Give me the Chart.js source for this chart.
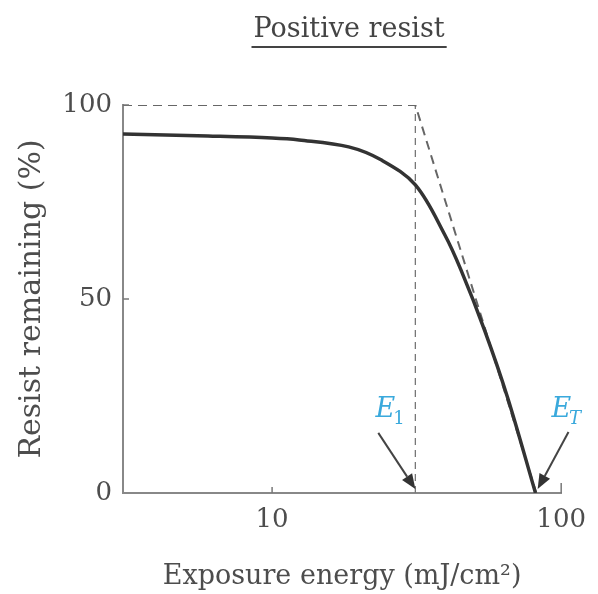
<!DOCTYPE html>
<html>
<head>
<meta charset="utf-8">
<script src="https://cdn.jsdelivr.net/npm/chart.js@4.4.1/dist/chart.umd.min.js"></script>
<style>
  html, body { margin: 0; padding: 0; background: #fff; }
  #wrap { width: 598px; height: 594px; position: relative; }
</style>
</head>
<body>
<div id="wrap"><canvas id="resistChart"></canvas></div>
<script>
// curve: exposure energy (mJ/cm2) vs resist remaining (%)
const energy = [3.05, 6, 10, 12.4, 18.4, 23.9, 31.3, 39.6, 45, 54.3, 65.2, 81.5];
const remaining = [92.5, 92, 91.5, 91, 89.2, 85.8, 79.4, 66.5, 57.5, 42, 24.7, 0];

// idealised dashed outline
const E1 = 31.3;
const ET = 82;
const idealX = [3.05, E1, ET];
const idealY = [100, 100, 0];

const xTicks = [10, 100];
const yTicks = [0, 50, 100];

// annotation arrows, in data units: [fromX, fromY, toX, toY]
const arrowE1 = [23.3, 15.5, E1, 1];
const arrowET = [106, 15.7, 82.9, 1];

const serif = "'DejaVu Serif', 'Liberation Serif', serif";
const textColor = '#4d4d4d';
const cyan = '#3aa9dc';

function pts(xs, ys) {
    return xs.map((v, i) => ({ x: v, y: ys[i] }));
}

function drawArrow(ctx, x0, y0, x1, y1) {
    const ang = Math.atan2(y1 - y0, x1 - x0);
    const head = 15, wing = 6;
    const bx = x1 - head * Math.cos(ang), by = y1 - head * Math.sin(ang);
    ctx.strokeStyle = '#444';
    ctx.lineWidth = 2;
    ctx.beginPath(); ctx.moveTo(x0, y0); ctx.lineTo(bx, by); ctx.stroke();
    ctx.fillStyle = '#333';
    ctx.beginPath();
    ctx.moveTo(x1, y1);
    ctx.lineTo(bx + wing * Math.sin(ang), by - wing * Math.cos(ang));
    ctx.lineTo(bx - wing * Math.sin(ang), by + wing * Math.cos(ang));
    ctx.closePath(); ctx.fill();
}

function drawLabel(ctx, x, y, main, sub, subItalic) {
    ctx.fillStyle = cyan;
    ctx.textBaseline = 'alphabetic';
    ctx.textAlign = 'left';
    ctx.font = 'italic 27px ' + serif;
    const w = ctx.measureText(main).width;
    ctx.fillText(main, x, y);
    ctx.font = (subItalic ? 'italic ' : '') + '18px ' + serif;
    ctx.fillText(sub, x + w - 2, y + 7);
}

const decor = {
    id: 'decor',
    afterDraw(chart) {
        const { ctx, chartArea, scales: { x, y } } = chart;
        ctx.save();

        // inward tick marks
        ctx.strokeStyle = '#777';
        ctx.lineWidth = 1.5;
        xTicks.forEach(v => {
            const px = x.getPixelForValue(v);
            ctx.beginPath();
            ctx.moveTo(px, chartArea.bottom);
            ctx.lineTo(px, chartArea.bottom - (v === 100 ? 10 : 6));
            ctx.stroke();
        });
        yTicks.slice(1).forEach(v => {
            const py = y.getPixelForValue(v);
            ctx.beginPath();
            ctx.moveTo(chartArea.left, py);
            ctx.lineTo(chartArea.left + 6, py);
            ctx.stroke();
        });

        // arrows
        [arrowE1, arrowET].forEach(a => {
            drawArrow(ctx, x.getPixelForValue(a[0]), y.getPixelForValue(a[1]),
                x.getPixelForValue(a[2]), y.getPixelForValue(a[3]));
        });

        // labels
        drawLabel(ctx, x.getPixelForValue(22.8), y.getPixelForValue(19.5), 'E', '1', false);
        drawLabel(ctx, x.getPixelForValue(92.5), y.getPixelForValue(19.5), 'E', 'T', true);

        // underlined title
        const title = 'Positive resist';
        ctx.font = '27px ' + serif;
        ctx.fillStyle = '#444';
        ctx.textAlign = 'center';
        ctx.textBaseline = 'alphabetic';
        const cx = (chartArea.left + chartArea.right) / 2 + 7;
        ctx.fillText(title, cx, 37);
        const tw = ctx.measureText(title).width;
        ctx.strokeStyle = '#444';
        ctx.lineWidth = 2;
        ctx.beginPath();
        ctx.moveTo(cx - tw / 2 - 2, 47);
        ctx.lineTo(cx + tw / 2 + 2, 47);
        ctx.stroke();

        ctx.restore();
    }
};

new Chart(document.getElementById('resistChart'), {
    type: 'line',
    data: {
        datasets: [
            {
                label: 'Resist remaining',
                data: pts(energy, remaining),
                borderColor: '#333',
                borderWidth: 3.5,
                pointRadius: 0,
                tension: 0.35,
                order: 0
            },
            {
                label: 'Ideal',
                data: pts(idealX, idealY),
                borderColor: '#666',
                borderWidth: 2,
                borderDash: [9, 6],
                pointRadius: 0,
                tension: 0,
                order: 1
            },
            {
                label: 'E1',
                data: pts([E1, E1], [0, 100]),
                borderColor: '#777',
                borderWidth: 1.3,
                borderDash: [7, 5],
                pointRadius: 0,
                tension: 0,
                order: 2
            }
        ]
    },
    options: {
        responsive: true,
        maintainAspectRatio: false,
        animation: false,
        layout: { padding: { left: 0, right: 34, top: 105, bottom: 0 } },
        plugins: { legend: { display: false }, tooltip: { enabled: false } },
        scales: {
            x: {
                type: 'logarithmic',
                min: 3.05,
                max: 100,
                afterBuildTicks: s => { s.ticks = xTicks.map(v => ({ value: v })); },
                afterFit: s => { s.height = 101; },
                grid: { display: false, drawTicks: false },
                border: { display: true, color: '#888', width: 2 },
                ticks: {
                    color: textColor,
                    font: { family: serif, size: 26 },
                    padding: 12,
                    maxRotation: 0,
                    callback: v => String(v)
                },
                title: {
                    display: true,
                    text: 'Exposure energy (mJ/cm²)',
                    color: textColor,
                    font: { family: serif, size: 27 },
                    padding: { top: 0, bottom: 1 }
                }
            },
            y: {
                min: 0,
                max: 100,
                afterBuildTicks: s => { s.ticks = yTicks.map(v => ({ value: v })); },
                afterFit: s => { s.width = 123; },
                grid: { display: false, drawTicks: false },
                border: { display: true, color: '#888', width: 2 },
                ticks: {
                    color: textColor,
                    font: { family: serif, size: 26 },
                    padding: 11
                },
                title: {
                    display: true,
                    text: 'Resist remaining (%)',
                    color: textColor,
                    font: { family: serif, size: 30 },
                    padding: { top: 14, bottom: 0 }
                }
            }
        }
    },
    plugins: [decor]
});
</script>
</body>
</html>
